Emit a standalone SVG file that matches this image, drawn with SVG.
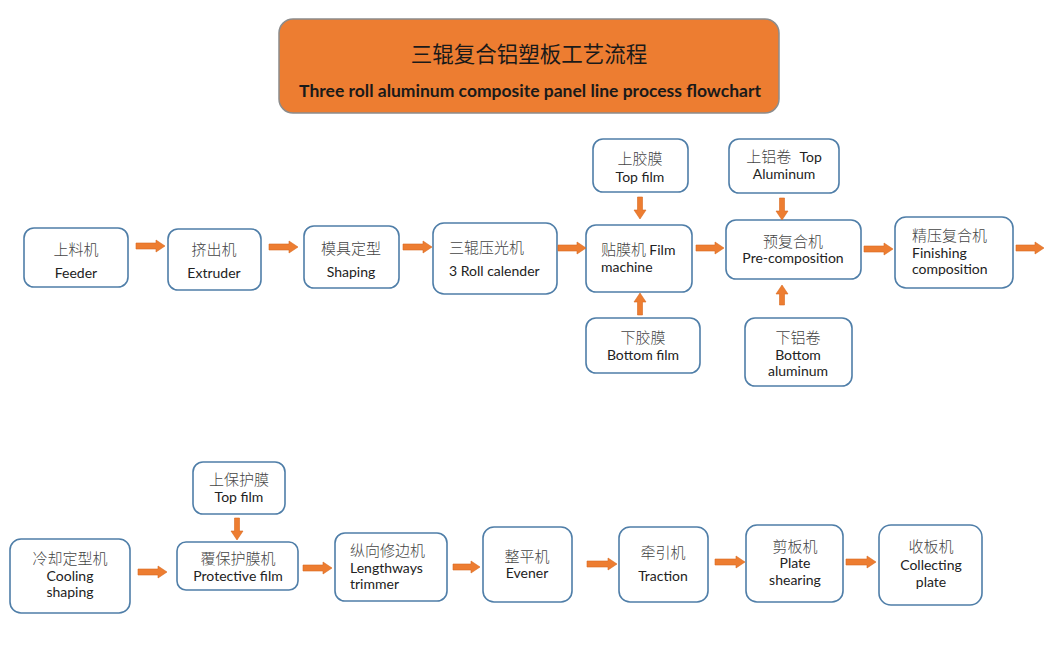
<svg xmlns="http://www.w3.org/2000/svg" width="1060" height="645" viewBox="0 0 1060 645">
<defs>
<style>
.box{fill:#ffffff;stroke:#4f7ea8;stroke-width:1.6}
.title{fill:#ed7d31;stroke:#8c8c8c;stroke-width:1.5}
.zh{font-family:"Noto Sans CJK SC",sans-serif;font-weight:300;font-size:15px;fill:#444}
.en{font-family:Lato,"Liberation Sans",sans-serif;font-weight:400;font-size:14px;fill:#222}
.m{text-anchor:middle}
.arr{fill:#ed7d31;stroke:#d9691f;stroke-width:0.6}
</style>
</defs>
<rect width="1060" height="645" fill="#ffffff"/>
<g id="title">
<rect class="title" x="279" y="19" width="500" height="94" rx="14"/>
<text x="529" y="62" text-anchor="middle" style="font-family:'Noto Sans CJK SC',sans-serif;font-size:21.5px;fill:#1a1a1a">三辊复合铝塑板工艺流程</text>
<text x="530" y="97" text-anchor="middle" style="font-family:Lato,'Liberation Sans',sans-serif;font-weight:bold;font-size:17.5px;fill:#1a1a1a">Three roll aluminum composite panel line process flowchart</text>
</g>
<g id="feeder"><rect class="box" x="24" y="228" width="104" height="59" rx="10"/><text class="zh m" x="76" y="255">上料机</text><text class="en m" x="76" y="278">Feeder</text></g>
<g id="extruder"><rect class="box" x="168" y="229" width="93" height="61" rx="10"/><text class="zh m" x="214" y="255">挤出机</text><text class="en m" x="214" y="278">Extruder</text></g>
<g id="shaping"><rect class="box" x="304" y="226" width="95" height="62" rx="10"/><text class="zh m" x="351" y="254">模具定型</text><text class="en m" x="351" y="277">Shaping</text></g>
<g id="calender"><rect class="box" x="433" y="223" width="124" height="71" rx="11"/><text class="zh" x="449" y="253">三辊压光机</text><text class="en" x="449" y="276">3 Roll calender</text></g>
<g id="film-machine"><rect class="box" x="586" y="225" width="106" height="67" rx="10"/><text class="zh" x="601" y="255">贴膜机 <tspan class="en">Film</tspan></text><text class="en" x="601" y="272">machine</text></g>
<g id="top-film"><rect class="box" x="593" y="139" width="95" height="53" rx="10"/><text class="zh m" x="640" y="164">上胶膜</text><text class="en m" x="640" y="182">Top film</text></g>
<g id="bottom-film"><rect class="box" x="586" y="318" width="114" height="55" rx="10"/><text class="zh m" x="643" y="343">下胶膜</text><text class="en m" x="643" y="360">Bottom film</text></g>
<g id="top-aluminum"><rect class="box" x="729" y="139" width="110" height="54" rx="10"/><text class="zh m" x="784" y="162">上铝卷 <tspan class="en" dx="5">Top</tspan></text><text class="en m" x="784" y="179">Aluminum</text></g>
<g id="pre-composition"><rect class="box" x="726" y="220" width="135" height="59" rx="10"/><text class="zh m" x="793" y="247">预复合机</text><text class="en m" x="793" y="263">Pre-composition</text></g>
<g id="bottom-aluminum"><rect class="box" x="745" y="318" width="107" height="68" rx="10"/><text class="zh m" x="798" y="343">下铝卷</text><text class="en m" x="798" y="360">Bottom</text><text class="en m" x="798" y="376">aluminum</text></g>
<g id="finishing"><rect class="box" x="895" y="217" width="118" height="71" rx="11"/><text class="zh" x="912" y="241">精压复合机</text><text class="en" x="912" y="258">Finishing</text><text class="en" x="912" y="274">composition</text></g>
<g id="top-film-2"><rect class="box" x="193" y="462" width="92" height="52" rx="10"/><text class="zh m" x="239" y="485">上保护膜</text><text class="en m" x="239" y="502">Top film</text></g>
<g id="cooling"><rect class="box" x="10" y="539" width="120" height="74" rx="11"/><text class="zh m" x="70" y="564">冷却定型机</text><text class="en m" x="70" y="581">Cooling</text><text class="en m" x="70" y="597">shaping</text></g>
<g id="protective"><rect class="box" x="177" y="542" width="121" height="48" rx="9"/><text class="zh m" x="238" y="564">覆保护膜机</text><text class="en m" x="238" y="581">Protective film</text></g>
<g id="trimmer"><rect class="box" x="335" y="533" width="112" height="68" rx="10"/><text class="zh" x="350" y="556">纵向修边机</text><text class="en" x="350" y="573">Lengthways</text><text class="en" x="350" y="589">trimmer</text></g>
<g id="evener"><rect class="box" x="483" y="527" width="89" height="75" rx="11"/><text class="zh m" x="527" y="562">整平机</text><text class="en m" x="527" y="578">Evener</text></g>
<g id="traction"><rect class="box" x="619" y="527" width="89" height="75" rx="11"/><text class="zh m" x="663" y="558">牵引机</text><text class="en m" x="663" y="581">Traction</text></g>
<g id="plate-shearing"><rect class="box" x="746" y="525" width="97" height="77" rx="11"/><text class="zh m" x="795" y="552">剪板机</text><text class="en m" x="795" y="568">Plate</text><text class="en m" x="795" y="585">shearing</text></g>
<g id="collecting"><rect class="box" x="879" y="525" width="103" height="80" rx="12"/><text class="zh m" x="931" y="552">收板机</text><text class="en m" x="931" y="570">Collecting</text><text class="en m" x="931" y="587">plate</text></g>
<g id="connectors">
<path class="arr" d="M136 243 H156 V240 L165 246 L156 252 V249 H136 Z"/>
<path class="arr" d="M269 244 H289 V241 L298 247 L289 253 V250 H269 Z"/>
<path class="arr" d="M403 244 H423 V241 L432 247 L423 253 V250 H403 Z"/>
<path class="arr" d="M558 245 H577 V242 L586 248 L577 254 V251 H558 Z"/>
<path class="arr" d="M696 245 H715 V242 L724 248 L715 254 V251 H696 Z"/>
<path class="arr" d="M864 246 H884 V243 L893 249 L884 255 V252 H864 Z"/>
<path class="arr" d="M1016 245 H1035 V242 L1044 248 L1035 254 V251 H1016 Z"/>
<path class="arr" d="M138 569 H158 V566 L167 572 L158 578 V575 H138 Z"/>
<path class="arr" d="M303 565 H323 V562 L332 568 L323 574 V571 H303 Z"/>
<path class="arr" d="M453 564 H471 V561 L480 567 L471 573 V570 H453 Z"/>
<path class="arr" d="M587 561 H608 V558 L617 564 L608 570 V567 H587 Z"/>
<path class="arr" d="M715 559 H736 V556 L745 562 L736 568 V565 H715 Z"/>
<path class="arr" d="M846 559 H867 V556 L876 562 L867 568 V565 H846 Z"/>
<path class="arr" d="M637.5 197 V210 H634 L640 219 L646 210 H642.5 V197 Z"/>
<path class="arr" d="M637.5 315 V302 H634 L640 293 L646 302 H642.5 V315 Z"/>
<path class="arr" d="M779.5 198 V211 H776 L782 220 L788 211 H784.5 V198 Z"/>
<path class="arr" d="M779.5 305 V294 H776 L782 285 L788 294 H784.5 V305 Z"/>
<path class="arr" d="M234.5 518 V531 H231 L237 540 L243 531 H239.5 V518 Z"/>
</g>
</svg>
